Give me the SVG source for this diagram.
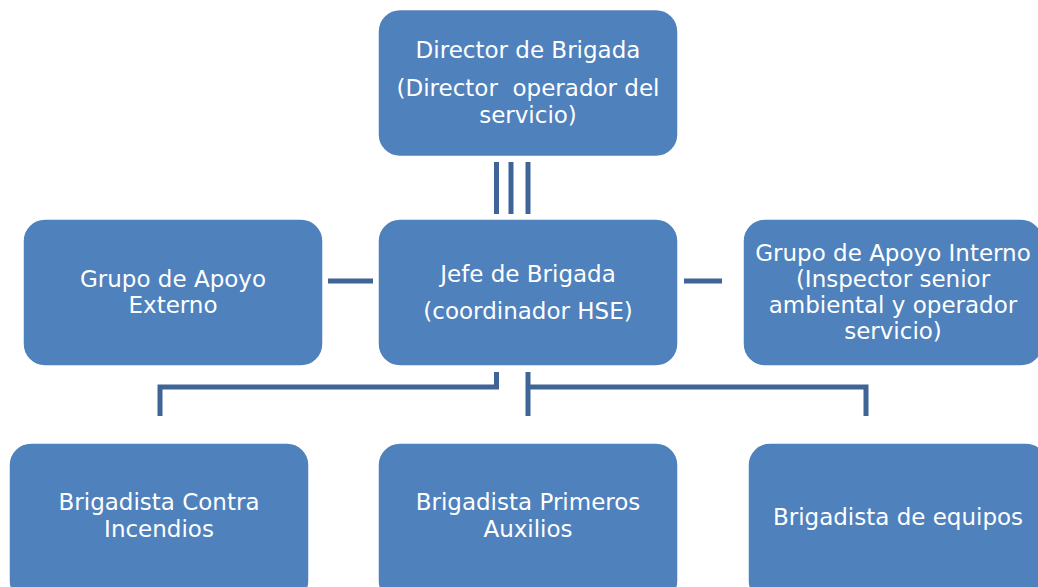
<svg xmlns="http://www.w3.org/2000/svg" width="1038" height="587" viewBox="0 0 1038 587">
<style>
.box{fill:#4f81bd;stroke:#ffffff;stroke-width:1.5}
.t{fill:#ffffff;font-family:"DejaVu Sans","Liberation Sans",sans-serif;font-size:23px;text-anchor:middle}
.pre{white-space:pre}
.c{stroke:#3e6596;stroke-width:5;fill:none;stroke-linecap:butt}
</style>
<rect width="1038" height="587" fill="#ffffff"/>
<g id="connectors">
<line class="c" x1="496.5" y1="162" x2="496.5" y2="214"/>
<line class="c" x1="511" y1="162" x2="511" y2="214"/>
<line class="c" x1="528" y1="162" x2="528" y2="214"/>
<line class="c" x1="328" y1="281" x2="373" y2="281"/>
<line class="c" x1="684" y1="281" x2="722" y2="281"/>
<polyline class="c" points="160,416 160,387 496.5,387 496.5,372"/>
<line class="c" x1="528" y1="372" x2="528" y2="416"/>
<polyline class="c" points="528,387 866,387 866,416"/>
</g>
<g id="director">
<rect class="box" x="378" y="9.5" width="300" height="147" rx="22"/>
<text class="t" x="528" y="58">Director de Brigada</text>
<text class="t pre" x="528" y="96" xml:space="preserve">(Director  operador del</text>
<text class="t" x="528" y="123">servicio)</text>
</g>
<g id="externo">
<rect class="box" x="23" y="219" width="300" height="147" rx="22"/>
<text class="t" x="173" y="287">Grupo de Apoyo</text>
<text class="t" x="173" y="313">Externo</text>
</g>
<g id="jefe">
<rect class="box" x="378" y="219" width="300" height="147" rx="22"/>
<text class="t" x="528" y="282">Jefe de Brigada</text>
<text class="t" x="528" y="319">(coordinador HSE)</text>
</g>
<g id="interno">
<rect class="box" x="743" y="219" width="300" height="147" rx="22"/>
<text class="t" x="893" y="261">Grupo de Apoyo Interno</text>
<text class="t" x="893" y="287">(Inspector senior</text>
<text class="t" x="893" y="313">ambiental y operador</text>
<text class="t" x="893" y="339">servicio)</text>
</g>
<g id="contra">
<rect class="box" x="9" y="443" width="300" height="160" rx="22"/>
<text class="t" x="159" y="510">Brigadista Contra</text>
<text class="t" x="159" y="537">Incendios</text>
</g>
<g id="auxilios">
<rect class="box" x="378" y="443" width="300" height="160" rx="22"/>
<text class="t" x="528" y="510">Brigadista Primeros</text>
<text class="t" x="528" y="537">Auxilios</text>
</g>
<g id="equipos">
<rect class="box" x="748" y="443" width="300" height="160" rx="22"/>
<text class="t" x="898" y="525">Brigadista de equipos</text>
</g>
</svg>
